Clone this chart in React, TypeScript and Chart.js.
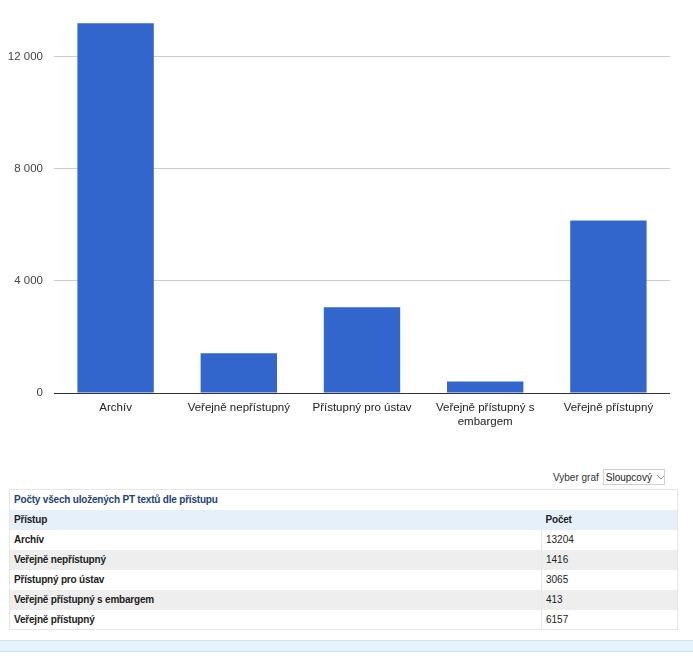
import React, { useEffect, useRef } from "react";
import { Chart, registerables } from "chart.js";

Chart.register(...registerables);

const categories: (string | string[])[] = [
  "Archív",
  "Veřejně nepřístupný",
  "Přístupný pro ústav",
  ["Veřejně přístupný s", "embargem"],
  "Veřejně přístupný",
];
const tableLabels: string[] = [
  "Archív",
  "Veřejně nepřístupný",
  "Přístupný pro ústav",
  "Veřejně přístupný s embargem",
  "Veřejně přístupný",
];
const counts: number[] = [13204, 1416, 3065, 413, 6157];
const yTicks: number[] = [0, 4000, 8000, 12000];
const title = "Počty všech uložených PT textů dle přístupu";
const colHeaders: string[] = ["Přístup", "Počet"];

const fmt = (v: number) => String(v).replace(/\B(?=(\d{3})+(?!\d))/g, " ");

export default function App() {
  const ref = useRef<HTMLCanvasElement | null>(null);

  useEffect(() => {
    if (!ref.current) return;
    const chart = new Chart(ref.current, {
      type: "bar",
      data: {
        labels: categories,
        datasets: [
          {
            data: counts,
            backgroundColor: "#3366cc",
            borderWidth: 0,
            barPercentage: 0.62,
            categoryPercentage: 1,
          },
        ],
      },
      options: {
        animation: false,
        responsive: false,
        devicePixelRatio: 1,
        layout: { padding: { left: 0, right: 23, top: 9, bottom: 0 } },
        plugins: { legend: { display: false }, tooltip: { enabled: false } },
        scales: {
          x: {
            grid: { display: false },
            border: { display: false },
            ticks: {
              autoSkip: false,
              maxRotation: 0,
              padding: 0,
              color: "#222",
              font: { family: "Arial, 'Liberation Sans'", size: 11.5 },
            },
            afterFit: (s: any) => {
              s.height = 47;
            },
          },
          y: {
            min: 0,
            max: 13395,
            grid: {
              drawTicks: false,
              color: (c: any) => (c.tick && c.tick.value === 0 ? "#333" : "#cccccc"),
            },
            border: { display: false },
            afterBuildTicks: (s: any) => {
              s.ticks = yTicks.map((v) => ({ value: v }));
            },
            ticks: {
              padding: 11,
              color: "#444",
              font: { family: "Arial, 'Liberation Sans'", size: 11.5 },
              callback: (v: any) => fmt(Number(v)),
            },
            afterFit: (s: any) => {
              s.width = 54;
            },
          },
        },
      },
    });
    return () => chart.destroy();
  }, []);

  const font = "Arial, 'Liberation Sans', sans-serif";
  const cell: React.CSSProperties = {
    height: 20,
    padding: "0 4px",
    fontSize: 10,
    fontFamily: font,
    color: "#222",
    boxSizing: "border-box",
  };
  const bold: React.CSSProperties = { fontWeight: "bold", letterSpacing: "-0.2px" };

  return (
    <div>
      <canvas
        ref={ref}
        width={693}
        height={440}
        style={{ position: "absolute", left: 0, top: 0, width: 693, height: 440 }}
      />
      <div
        style={{
          position: "absolute",
          left: 553,
          top: 469,
          height: 16,
          display: "flex",
          alignItems: "center",
          fontFamily: font,
          fontSize: 10,
          color: "#333",
        }}
      >
        <span style={{ marginRight: 4 }}>Vyber graf</span>
        <div
          style={{
            width: 62,
            height: 16,
            boxSizing: "border-box",
            border: "1px solid #d0d0d0",
            display: "flex",
            alignItems: "center",
            paddingLeft: 2,
            color: "#222",
          }}
        >
          <span>Sloupcový</span>
          <svg width="10" height="6" style={{ marginLeft: 4 }}>
            <polyline points="1,1 5,5 9,1" fill="none" stroke="#888" strokeWidth="1" />
          </svg>
        </div>
      </div>
      <table
        style={{
          position: "absolute",
          left: 9,
          top: 489,
          width: 668,
          borderCollapse: "collapse",
          border: "1px solid #e6e6e6",
          tableLayout: "fixed",
        }}
      >
        <colgroup>
          <col style={{ width: 532 }} />
          <col style={{ width: 136 }} />
        </colgroup>
        <tbody>
          <tr>
            <td colSpan={2} style={{ ...cell, ...bold, color: "#23427a", background: "#fff" }}>
              {title}
            </td>
          </tr>
          <tr style={{ background: "#e5f0fb" }}>
            {colHeaders.map((h) => (
              <td key={h} style={{ ...cell, ...bold }}>
                {h}
              </td>
            ))}
          </tr>
          {tableLabels.map((l, i) => (
            <tr key={l} style={{ background: i % 2 === 1 ? "#eeeeee" : "#ffffff" }}>
              <td style={{ ...cell, ...bold }}>{l}</td>
              <td style={{ ...cell, borderLeft: "1px solid #e6e6e6" }}>{counts[i]}</td>
            </tr>
          ))}
        </tbody>
      </table>
      <div
        style={{
          position: "absolute",
          left: 0,
          top: 640,
          width: 693,
          height: 12,
          boxSizing: "border-box",
          background: "#e6f3fc",
          borderTop: "1px solid #cfe4f2",
          borderBottom: "1px solid #cfe4f2",
        }}
      />
    </div>
  );
}
